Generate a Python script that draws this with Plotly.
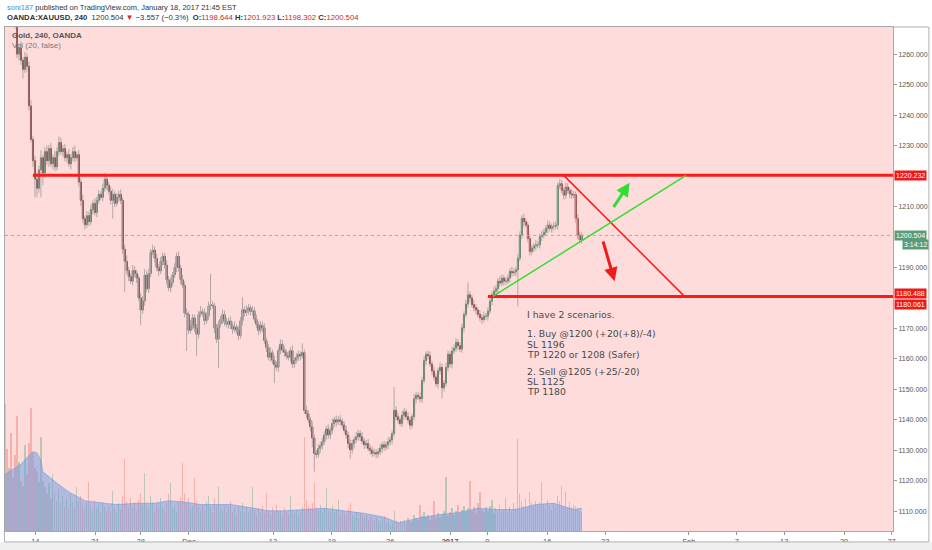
import plotly.graph_objects as go

# ---------------- data ----------------
first_open = 1277.0
close = [
    1276, 1274, 1277, 1275, 1272, 1270, 1260, 1262, 1258, 1255,
    1259, 1256, 1243, 1232, 1225, 1219, 1216, 1222, 1226, 1221,
    1228, 1225, 1229, 1224, 1226, 1223, 1228, 1231, 1228, 1229,
    1226, 1227, 1224, 1226, 1228, 1226, 1227, 1218, 1212, 1206,
    1204, 1207, 1205, 1209, 1211, 1208, 1212, 1214, 1213, 1216,
    1219, 1217, 1215, 1212, 1214, 1211, 1213, 1214, 1212, 1196,
    1192, 1189, 1187, 1185.5, 1189, 1188, 1186.5, 1180, 1176, 1179,
    1187.5, 1183, 1188, 1195, 1195.7, 1193, 1190, 1188.8, 1192, 1193.7,
    1190.8, 1186, 1183.3, 1185, 1187.5, 1190, 1193.7, 1189.8, 1186, 1184.2,
    1175, 1174.6, 1169.3, 1171, 1173.5, 1170, 1168, 1174.6, 1175.5, 1175.1,
    1172.5, 1174, 1177.3, 1177.8, 1177.4, 1170, 1166.4, 1171.3, 1173, 1174.6,
    1172, 1171.3, 1172.5, 1171, 1169.7, 1170.5, 1169.3, 1167.6, 1172.5, 1176.2,
    1175.1, 1176, 1176.8, 1175.5, 1175.8, 1173, 1171.3, 1169.3, 1171, 1170.2,
    1166, 1163.7, 1160.5, 1162, 1159.5, 1158, 1157.2, 1162.7, 1164.8, 1163,
    1162.1, 1161, 1160.5, 1162.7, 1158.3, 1159.5, 1160.5, 1161.5, 1161, 1162.1,
    1143.1, 1142, 1140, 1137.7, 1134, 1129, 1128.6, 1130.6, 1131.5, 1132.8,
    1135, 1137, 1135, 1136.5, 1138.8, 1140, 1139.3, 1140, 1139.5, 1138.3,
    1136.5, 1135, 1132.2, 1130.2, 1132.2, 1133.5, 1134.4, 1135.5, 1134.4, 1133,
    1131.8, 1132.2, 1130.6, 1130, 1129, 1129.2, 1128.8, 1129.5, 1130.6, 1131.8,
    1131, 1131.8, 1132.8, 1133.4, 1135.5, 1143.1, 1141, 1140, 1138.8, 1141.5,
    1142.6, 1141, 1139.9, 1138.2, 1141, 1146.9, 1148, 1147.5, 1146.9, 1152.9,
    1159.4, 1161.5, 1161, 1158.3, 1156, 1154, 1151.8, 1156.1, 1157.2, 1150.5,
    1152, 1157.2, 1161.5, 1158.3, 1162.6, 1163.5, 1165.4, 1164.3, 1163.2, 1170.2,
    1174.6, 1178, 1181, 1180, 1177.8, 1176.8, 1176, 1174.6, 1173.5, 1172.9,
    1174, 1174, 1175.7, 1178.9, 1181.1, 1182.2, 1183, 1185.5, 1184.9, 1186.5,
    1185.5, 1185.5, 1186.5, 1188.7, 1188.2, 1188.5, 1189.2, 1193, 1200.6, 1206.1,
    1205, 1203.9, 1199.5, 1195.2, 1196.3, 1197, 1197.4, 1197.4, 1200.1, 1200.6,
    1201.5, 1202.8, 1203.9, 1202.8, 1203.4, 1203.5, 1203.9, 1216.9, 1217.5, 1215.3,
    1213.7, 1216.4, 1215.3, 1214.2, 1213.7, 1213.9, 1206.1, 1200.6, 1199, 1200.504,
]
wick_up = [
    1.5, 1.2, 2.0, 1.0, 1.8, 2.5, 3.0, 1.5, 2.2, 1.0,
    1.8, 1.2, 1.5, 2.0, 1.0, 1.6, 2.2, 1.4, 2.5, 1.0,
    1.5, 2.0, 1.2, 1.8, 1.0, 2.2, 1.4, 2.0, 1.6, 1.2,
    1.5, 1.0, 1.8, 1.2, 1.5, 2.0, 1.0, 1.5, 1.2, 1.8,
    1.0, 1.5, 1.2, 1.6, 1.0, 1.8, 1.2, 1.4, 1.0, 1.5,
    2.0, 1.2, 1.0, 1.5, 1.8, 1.0, 1.4, 1.2, 1.6, 1.0,
    1.5, 2.0, 1.2, 1.0, 1.8, 1.4, 1.2, 1.0, 1.5, 1.6,
    2.0, 1.2, 1.5, 1.0, 1.8, 1.2, 1.5, 1.0, 1.4, 1.2,
    1.0, 1.5, 1.2, 1.8, 1.0, 1.4, 1.2, 1.5, 1.0, 1.6,
    1.2, 1.5, 1.0, 1.8, 1.2, 1.0, 1.5, 1.2, 1.8, 1.0,
    1.4, 1.2, 1.5, 10.0, 1.2, 1.0, 1.5, 1.2, 1.0, 1.6,
    1.2, 1.5, 1.0, 1.4, 1.2, 1.8, 1.0, 1.5, 1.2, 4.0,
    1.0, 1.5, 1.2, 1.0, 1.6, 1.2, 1.5, 1.0, 1.4, 1.2,
    1.5, 1.0, 1.2, 1.8, 1.0, 1.5, 1.2, 1.0, 1.6, 1.4,
    1.2, 1.0, 1.5, 1.2, 1.8, 1.0, 1.4, 1.2, 1.0, 3.0,
    1.0, 1.5, 1.2, 1.0, 1.8, 1.2, 1.0, 1.5, 1.2, 1.4,
    1.2, 1.0, 1.5, 1.2, 1.6, 1.0, 1.4, 1.2, 1.5, 1.0,
    1.2, 1.5, 1.0, 1.4, 1.2, 1.0, 1.6, 1.2, 1.0, 1.5,
    1.0, 1.2, 1.5, 1.0, 1.2, 1.4, 1.0, 1.2, 1.5, 1.0,
    1.2, 1.0, 1.5, 1.2, 1.0, 7.6, 1.4, 1.2, 1.0, 1.5,
    1.2, 1.0, 1.5, 1.2, 1.0, 1.6, 1.2, 1.0, 1.4, 1.2,
    1.5, 1.0, 1.2, 1.4, 1.0, 1.5, 1.2, 1.0, 1.6, 1.2,
    1.0, 1.5, 1.2, 1.0, 1.4, 1.2, 1.5, 1.0, 1.2, 1.4,
    1.0, 1.5, 4.0, 1.2, 1.0, 1.5, 1.2, 1.0, 1.4, 1.2,
    1.5, 1.0, 1.2, 1.4, 1.0, 1.5, 1.2, 1.0, 1.6, 1.2,
    1.0, 1.4, 1.2, 1.0, 1.5, 1.2, 1.0, 1.4, 1.2, 1.0,
    1.5, 1.2, 1.0, 1.4, 1.2, 1.0, 1.5, 1.2, 1.0, 1.4,
    1.2, 1.0, 1.5, 1.2, 1.0, 1.4, 1.2, 1.0, 1.5, 1.2,
    1.0, 1.4, 1.2, 1.0, 1.5, 1.2, 1.0, 1.4, 1.2, 1.0,
]
wick_dn = [
    1.5, 2.0, 1.2, 1.8, 1.0, 1.5, 1.2, 2.0, 1.5, 3.0,
    1.2, 1.8, 1.5, 1.0, 2.0, 6.0, 3.0, 1.5, 9.0, 4.0,
    1.5, 1.2, 2.0, 1.0, 1.8, 1.4, 1.2, 1.5, 1.0, 1.6,
    1.2, 1.5, 1.0, 1.8, 1.2, 1.5, 1.0, 1.4, 1.8, 1.2,
    1.5, 1.0, 1.4, 1.2, 1.6, 1.0, 1.5, 1.2, 1.0, 1.4,
    1.2, 1.5, 1.0, 1.4, 6.0, 1.2, 1.0, 1.5, 1.2, 1.6,
    10.0, 1.2, 1.5, 1.0, 1.4, 1.2, 1.6, 1.0, 5.0, 1.2,
    1.5, 1.0, 1.4, 1.2, 1.0, 1.5, 1.2, 1.6, 1.0, 1.4,
    1.2, 1.5, 1.0, 1.4, 1.2, 1.0, 1.6, 1.2, 1.5, 1.0,
    1.4, 12.0, 1.2, 1.0, 1.5, 1.2, 7.0, 1.4, 1.0, 1.2,
    1.5, 1.0, 1.2, 1.4, 1.0, 1.6, 1.2, 9.4, 1.0, 1.5,
    1.2, 1.0, 1.4, 1.2, 1.5, 1.0, 1.2, 1.4, 1.0, 1.5,
    1.2, 1.0, 1.5, 1.2, 1.4, 1.0, 1.2, 1.5, 1.0, 1.4,
    1.2, 1.5, 1.0, 1.4, 1.2, 6.0, 1.0, 1.5, 1.2, 1.0,
    1.4, 1.2, 1.0, 1.5, 1.2, 1.4, 1.0, 1.2, 1.5, 1.0,
    1.2, 1.4, 1.0, 1.5, 3.0, 6.0, 1.2, 1.0, 1.4, 1.2,
    1.0, 1.5, 1.2, 1.4, 1.0, 1.2, 1.5, 1.0, 1.4, 1.2,
    1.0, 1.2, 1.5, 3.0, 1.2, 1.4, 1.0, 1.2, 1.5, 1.0,
    1.4, 1.2, 1.0, 1.5, 1.2, 1.0, 1.4, 1.2, 1.0, 1.5,
    1.2, 1.0, 1.4, 1.2, 1.5, 1.0, 1.2, 1.4, 1.0, 1.2,
    1.5, 1.0, 1.2, 1.4, 1.0, 1.2, 1.5, 1.0, 1.2, 1.4,
    1.0, 1.5, 1.2, 1.0, 1.4, 1.2, 1.0, 1.5, 1.2, 3.6,
    1.2, 1.0, 1.4, 1.2, 1.5, 1.0, 1.2, 1.4, 1.0, 1.2,
    1.5, 1.0, 1.2, 1.4, 1.0, 1.2, 1.5, 1.0, 1.2, 1.4,
    1.0, 1.2, 1.5, 1.0, 1.4, 1.2, 1.0, 1.5, 1.2, 1.0,
    1.4, 1.2, 1.0, 1.5, 1.2, 1.0, 1.4, 12.0, 1.0, 1.2,
    1.5, 1.0, 1.2, 1.4, 1.0, 1.2, 1.5, 1.0, 1.2, 1.4,
    1.0, 1.2, 1.5, 1.0, 1.4, 1.2, 1.0, 1.5, 1.2, 1.0,
    1.4, 1.2, 1.0, 1.5, 1.2, 1.0, 1.4, 1.2, 1.0, 1.2,
]
volume = [
    10.1, 6.5, 5.0, 7.8, 4.2, 6.0, 9.1, 5.5, 4.0, 3.6,
    6.8, 4.5, 7.0, 9.8, 6.2, 5.0, 4.8, 3.9, 7.5, 4.0,
    3.5, 2.9, 3.8, 2.6, 4.5, 3.0, 2.4, 3.3, 2.2, 2.8,
    2.0, 2.6, 1.8, 2.9, 2.3, 1.9, 3.5, 2.4, 2.8, 2.0,
    1.7, 2.2, 3.9, 2.0, 1.6, 2.5, 1.8, 2.1, 1.5, 2.3,
    1.9, 1.6, 2.0, 1.4, 3.2, 1.8, 1.5, 2.2, 1.7, 2.8,
    5.7, 2.4, 1.9, 2.6, 1.8, 2.2, 1.6, 2.5, 3.0, 2.1,
    4.6, 2.0, 1.7, 2.8, 2.3, 1.5, 2.0, 1.8, 2.6, 1.9,
    1.6, 2.2, 2.9, 3.8, 1.8, 2.0, 1.5, 2.3, 2.7, 5.4,
    3.0, 2.2, 2.6, 1.8, 2.0, 4.2, 2.4, 1.9, 1.6, 2.1,
    1.7, 2.3, 2.8, 1.9, 1.5, 2.6, 2.0, 3.5, 1.8, 1.6,
    2.0, 1.4, 1.9, 2.4, 1.5, 1.8, 1.3, 2.0, 1.6, 2.2,
    1.5, 1.9, 1.4, 1.7, 3.5, 1.6, 1.3, 1.8, 1.5, 2.0,
    1.4, 3.0, 1.7, 1.3, 1.9, 1.5, 2.1, 1.4, 1.6, 1.2,
    1.8, 1.5, 1.3, 2.8, 1.6, 1.4, 1.7, 1.2, 1.5, 1.9,
    7.5, 2.5, 2.0, 1.8, 2.2, 3.8, 1.9, 1.6, 2.1, 1.5,
    1.8, 3.4, 1.6, 1.4, 2.0, 1.5, 1.7, 2.5, 1.3, 1.6,
    1.4, 1.2, 1.8, 2.2, 1.3, 1.1, 1.5, 1.0, 1.4, 1.2,
    1.0, 1.3, 0.9, 1.2, 1.0, 0.8, 1.1, 0.9, 0.7, 1.0,
    1.2, 0.6, 0.8, 0.5, 0.7, 1.6, 0.9, 0.6, 0.8, 0.7,
    0.9, 0.6, 1.0, 0.7, 0.8, 1.3, 1.0, 0.9, 2.1, 1.2,
    1.5, 1.1, 1.3, 0.9, 1.2, 2.4, 1.0, 1.4, 1.1, 1.3,
    1.6, 4.3, 1.2, 1.5, 1.8, 1.3, 1.6, 2.1, 1.4, 1.7,
    2.0, 1.5, 1.8, 4.0, 1.6, 1.9, 1.4, 2.2, 3.1, 1.7,
    1.5, 1.9, 1.6, 2.0, 2.5, 1.4, 1.8, 1.6, 2.1, 1.5,
    1.7, 2.6, 1.5, 1.9, 1.6, 2.2, 1.8, 7.3, 2.9, 2.4,
    2.0, 2.6, 1.8, 3.1, 2.2, 1.9, 2.4, 2.0, 2.3, 3.9,
    2.1, 1.8, 2.5, 2.0, 1.7, 2.2, 1.9, 2.8, 2.4, 3.6,
    2.0, 3.1, 1.8, 2.3, 1.9, 2.1, 2.0, 1.7, 1.6, 1.5,
]
# Volume moving-average (20) area, read at selected bars
ma_bar = [0, 4, 8, 12, 14, 16, 18, 19, 22, 26, 32, 40, 50, 56, 66, 75, 82, 90, 98,
          113, 125, 132, 140, 151, 160, 170, 180, 190, 197, 204, 208, 218, 227,
          237, 247, 256, 266, 275, 285, 289]
ma_val = [4.5, 4.9, 5.3, 6.0, 6.3, 6.2, 5.6, 4.7, 4.3, 3.8, 3.1, 2.4, 2.2, 2.1, 2.2,
          2.2, 2.4, 2.3, 2.1, 2.1, 1.8, 1.6, 1.6, 1.7, 1.8, 1.6, 1.4, 1.1, 0.65,
          0.9, 1.05, 1.3, 1.45, 1.8, 1.7, 1.7, 2.1, 2.2, 1.7, 1.8]

x_tick_pos = [15.2, 45.2, 68, 92.2, 134.3, 163.8, 193, 223, 241.7, 271.7, 300.8,
              342.7, 366.7, 390.5, 420.5, 444.3]
x_tick_text = ["14", "21", "28", "Dec", "12", "19", "26", "<b>2017</b>", "9", "16",
               "23", "Feb", "7", "13", "20", "27"]
# price-scale ticks that are visible (1180/1200/1220 are hidden under the price tags)
y_ticks = [1110, 1120, 1130, 1140, 1150, 1160, 1170, 1190, 1210,
           1230, 1240, 1250, 1260]

level_hi = 1220.232
level_lo = 1180.488
level_lo2 = 1180.061
last_price = 1200.504
countdown = "3:14:12"

# drawing-tool anchor points (bar index, price)
red_diag = [(280, 1220.2), (340.5, 1180.5)]
green_line = [(244.5, 1180.5), (341.3, 1220.2)]
green_arrow = [(304.5, 1209.3), (313, 1217.8)]
red_arrow = [(299.5, 1199.0), (305.5, 1185.5)]
hline_hi_start = 14
hline_lo_start = 242

note_x = 260.9
note_lines = ["I have 2 scenarios.", "1. Buy @1200 (+20(+8)/-4)", "SL 1196",
              "TP 1220 or 1208 (Safer)", "2. Sell @1205 (+25/-20)", "SL 1125", "TP 1180"]
note_prices = [1174.57, 1168.2, 1164.85, 1161.5, 1156.0, 1152.65, 1149.3]

assert len(close) == len(wick_up) == len(wick_dn) == len(volume)

# ---------------- derived ----------------
n = len(close)
bars = list(range(n))
opens = [first_open] + close[:-1]
body_hi = [max(o, c) for o, c in zip(opens, close)]
body_lo = [min(o, c) for o, c in zip(opens, close)]
high = [b + w for b, w in zip(body_hi, wick_up)]
low = [b - w for b, w in zip(body_lo, wick_dn)]

wx, wy = [], []
for i in bars:
    wx += [i, i, None]
    wy += [low[i], high[i], None]

vol_colors = ["rgba(80,165,110,0.38)" if c >= o else "rgba(235,105,95,0.38)"
              for o, c in zip(opens, close)]

fig = go.Figure()
fig.add_trace(go.Scatter(x=ma_bar, y=ma_val, yaxis="y2", mode="lines", fill="tozeroy",
                         line=dict(color="rgba(110,155,220,0.6)", width=1),
                         fillcolor="rgba(115,160,225,0.55)", hoverinfo="skip"))
fig.add_trace(go.Bar(x=bars, y=volume, yaxis="y2", width=0.6,
                     marker=dict(color=vol_colors, line=dict(width=0)), hoverinfo="skip"))
fig.add_trace(go.Scatter(x=wx, y=wy, mode="lines",
                         line=dict(color="#b3a6a6", width=1), hoverinfo="skip"))
fig.add_trace(go.Candlestick(
    x=bars, open=opens, high=body_hi, low=body_lo, close=close,
    increasing=dict(line=dict(color="#2e7047", width=1), fillcolor="#3f8f5e"),
    decreasing=dict(line=dict(color="#7d1414", width=1), fillcolor="#9a2020"),
    whiskerwidth=0, hoverinfo="skip"))

shapes = [
    dict(type="line", xref="x", yref="y", x0=0, x1=445, y0=last_price, y1=last_price,
         line=dict(color="#b2a8a8", width=1, dash="dot")),
    dict(type="line", xref="x", yref="y", x0=hline_hi_start, x1=445, y0=level_hi, y1=level_hi,
         line=dict(color="#ff1a1a", width=3)),
    dict(type="line", xref="x", yref="y", x0=hline_lo_start, x1=445, y0=level_lo, y1=level_lo,
         line=dict(color="#ff1a1a", width=3)),
    dict(type="line", xref="x", yref="y", x0=red_diag[0][0], y0=red_diag[0][1],
         x1=red_diag[1][0], y1=red_diag[1][1], line=dict(color="#ff1a1a", width=1.5)),
    dict(type="line", xref="x", yref="y", x0=green_line[0][0], y0=green_line[0][1],
         x1=green_line[1][0], y1=green_line[1][1], line=dict(color="#33dd33", width=1.5)),
    # outer chart frame
    dict(type="rect", xref="paper", yref="paper", x0=-0.01, x1=1.06, y0=-0.0217, y1=-0.05,
         fillcolor="#f0f0f0", line=dict(width=0), layer="above"),
    dict(type="line", xref="paper", yref="paper", x0=-0.0006, x1=1.0404, y0=-0.0217, y1=-0.0217,
         line=dict(color="#b0b0b0", width=1), layer="above"),
    dict(type="line", xref="paper", yref="paper", x0=1.0404, x1=1.0404, y0=-0.0217, y1=1.0,
         line=dict(color="#b0b0b0", width=1), layer="above"),
    dict(type="line", xref="paper", yref="paper", x0=-0.0006, x1=-0.0006, y0=-0.0217, y1=0,
         line=dict(color="#b0b0b0", width=1), layer="above"),
    dict(type="line", xref="paper", yref="paper", x0=1.0, x1=1.0404, y0=1.0, y1=1.0,
         line=dict(color="#b0b0b0", width=1), layer="above"),
]

annos = []
# header
annos.append(dict(xref="paper", yref="paper", x=0.0, y=1.0394, xanchor="left", yanchor="middle",
                  showarrow=False, font=dict(family="Liberation Sans, Arial", size=7.5, color="#333"),
                  text="<span style='color:#3b8fd3'>soni187</span> published on TradingView.com, "
                       "January 18, 2017 21:45 EST"))
red_t = "#c62b2b"
annos.append(dict(xref="paper", yref="paper", x=0.0, y=1.0197, xanchor="left", yanchor="middle",
                  showarrow=False, font=dict(family="Liberation Sans, Arial", size=7.7, color="#333"),
                  text=("<b>OANDA:XAUUSD, 240</b>&nbsp;&nbsp;1200.504 "
                        "<span style='color:#e32222'>▼</span> −3.557 (−0.3%)&nbsp;&nbsp;"
                        f"<b>O:</b><span style='color:{red_t}'>1198.644</span> "
                        f"<b>H:</b><span style='color:{red_t}'>1201.923</span> "
                        f"<b>L:</b><span style='color:{red_t}'>1198.302</span> "
                        f"<b>C:</b><span style='color:{red_t}'>1200.504</span>")))
annos.append(dict(xref="paper", yref="paper", x=0.0056, y=0.984, xanchor="left", yanchor="middle",
                  showarrow=False, font=dict(family="Liberation Sans, Arial", size=8, color="#555"),
                  text="<b>Gold, 240, OANDA</b>"))
annos.append(dict(xref="paper", yref="paper", x=0.0056, y=0.9626, xanchor="left", yanchor="middle",
                  showarrow=False, font=dict(family="Liberation Sans, Arial", size=8, color="#777"),
                  text="Vol (20, false)"))
# scenario notes
for t, p in zip(note_lines, note_prices):
    annos.append(dict(xref="x", yref="y", x=note_x, y=p, xanchor="left", yanchor="middle",
                      showarrow=False, text=t, borderpad=0,
                      font=dict(family="DejaVu Sans, Verdana", size=9.3, color="#4a4a4a")))
# arrows
annos.append(dict(xref="x", yref="y", axref="x", ayref="y",
                  x=green_arrow[1][0], y=green_arrow[1][1], ax=green_arrow[0][0], ay=green_arrow[0][1],
                  showarrow=True, arrowhead=2, arrowsize=0.9, arrowwidth=3, arrowcolor="#33dd33", text=""))
annos.append(dict(xref="x", yref="y", axref="x", ayref="y",
                  x=red_arrow[1][0], y=red_arrow[1][1], ax=red_arrow[0][0], ay=red_arrow[0][1],
                  showarrow=True, arrowhead=2, arrowsize=0.9, arrowwidth=3, arrowcolor="#ee1c1c", text=""))
# price-scale labels
lab_font = dict(family="Liberation Sans, Arial", size=7, color="white")
def price_label(val, txt, bg, yshift=0, xshift=1):
    return dict(xref="paper", yref="y", x=1, y=val, xanchor="left", yanchor="middle",
                xshift=xshift, yshift=yshift, showarrow=False, text=txt, bgcolor=bg,
                borderpad=1, font=lab_font)
annos.append(price_label(level_hi, f"{level_hi:.3f}", "#f01818"))
annos.append(price_label(level_lo, f"{level_lo:.3f}", "#f01818", yshift=3))
annos.append(price_label(level_lo2, f"{level_lo2:.3f}", "#f01818", yshift=-7))
annos.append(price_label(last_price, f"{last_price:.3f}", "#5d9b78"))
annos.append(price_label(last_price, countdown, "#5d9b78", yshift=-9, xshift=9))

fig.update_layout(
    width=932, height=550,
    margin=dict(l=4, r=38, t=27, b=15),
    paper_bgcolor="white", plot_bgcolor="#ffdcdc",
    showlegend=False, shapes=shapes, annotations=annos, bargap=0,
    xaxis=dict(range=[0, 445], showgrid=False, zeroline=False, tickvals=x_tick_pos,
               ticktext=x_tick_text, ticks="outside", ticklen=3, tickcolor="#999",
               tickfont=dict(family="Liberation Sans, Arial", size=7.5, color="#555"),
               showline=True, linecolor="#a8a8a8", linewidth=1, mirror=True,
               rangeslider=dict(visible=False), fixedrange=True),
    yaxis=dict(side="right", range=[1103.5, 1268.9], showgrid=False, zeroline=False,
               tickvals=y_ticks, ticktext=[f"{v:.3f}" for v in y_ticks],
               ticks="outside", ticklen=3, tickcolor="#999",
               tickfont=dict(family="Liberation Sans, Arial", size=7, color="#555"),
               showline=True, linecolor="#a8a8a8", linewidth=1, mirror=True, fixedrange=True),
    yaxis2=dict(overlaying="y", range=[0, 40], visible=False, fixedrange=True),
)

fig.write_html("out.html", config={"displayModeBar": False},
               post_script="document.body.style.margin='0px';")
